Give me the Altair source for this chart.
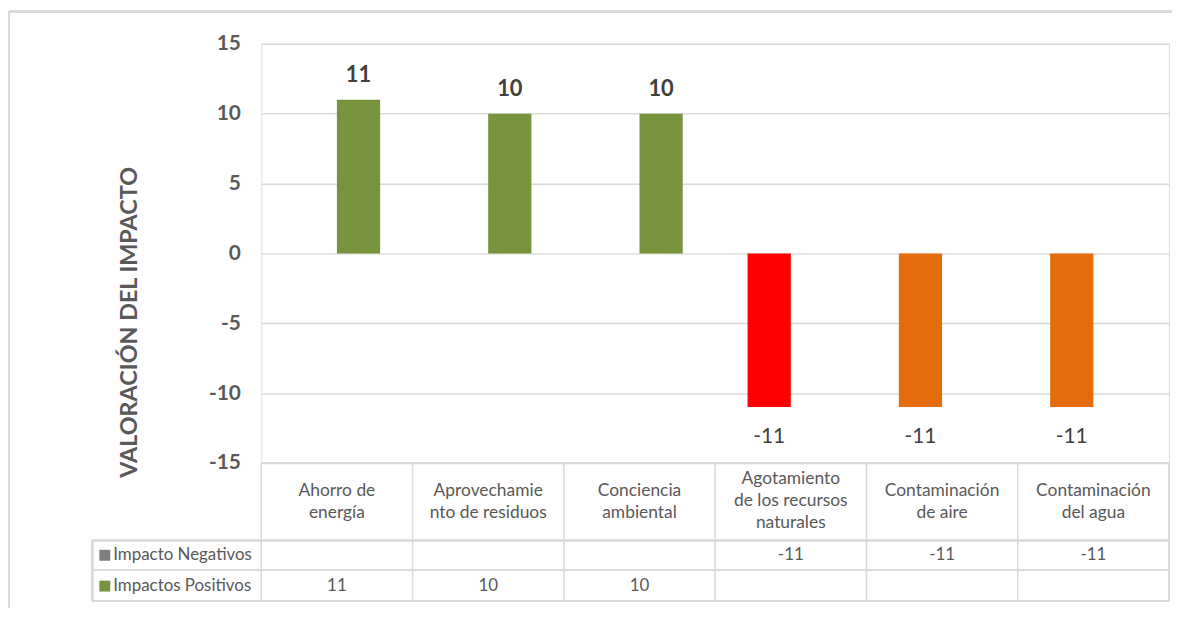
import altair as alt
import pandas as pd

categories = ["Ahorro de energía", "Aprovechamiento de residuos", "Conciencia ambiental",
              "Agotamiento de los recursos naturales", "Contaminación de aire",
              "Contaminación del agua"]
category_lines = [["Ahorro de", "energía"], ["Aprovechamie", "nto de residuos"],
                  ["Conciencia", "ambiental"], ["Agotamiento", "de los recursos", "naturales"],
                  ["Contaminación", "de aire"], ["Contaminación", "del agua"]]
series = ["Impacto Negativos", "Impactos Positivos"]
negativos = [None, None, None, -11, -11, -11]
positivos = [11, 10, 10, None, None, None]
y_ticks = [-15, -10, -5, 0, 5, 10, 15]

bar_colors = ["#77933C", "#77933C", "#77933C", "#FF0000", "#E46C0A", "#E46C0A"]
legend_colors = ["#7F7F7F", "#77933C"]
GRID = "#D9D9D9"
TXT = "#595959"
FONT = "Lato"

rows = []
for i, c in enumerate(categories):
    for s, vals in zip(series, [negativos, positivos]):
        if vals[i] is not None:
            rows.append({"cat": c, "serie": s, "valor": vals[i]})
df = pd.DataFrame(rows)
df_head = pd.DataFrame({"cat": categories,
                        "label": ["\n".join(l) for l in category_lines],
                        "n": [len(l) for l in category_lines]})
df_series = pd.DataFrame({"serie": series})

W, H = 914, 422

xcat = alt.X("cat:N", sort=categories,
             scale=alt.Scale(domain=categories, paddingInner=0, paddingOuter=0), axis=None)
xoff = alt.XOffset("serie:N", scale=alt.Scale(domain=series, paddingInner=0, paddingOuter=0.75))
yval = alt.Y("valor:Q", scale=alt.Scale(domain=[-15, 15], nice=False, zero=False),
             axis=alt.Axis(values=y_ticks, grid=True, gridColor=GRID, gridWidth=1.5,
                           domain=False, ticks=False, labelFont=FONT, labelFontSize=21,
                           labelFontWeight="bold", labelColor=TXT, labelPadding=21,
                           labelExpr="'' + datum.value",
                           title="VALORACIÓN DEL IMPACTO", titleFont=FONT, titleFontSize=23.5,
                           titleFontWeight="bold", titleColor=TXT, titleAngle=270,
                           titleAlign="center", titleBaseline="middle",
                           titleX=-133, titleY=280))

base = alt.Chart(df).transform_calculate(txt="'' + datum.valor")

bars = base.mark_bar().encode(
    x=xcat, xOffset=xoff, y=yval, y2=alt.datum(0),
    color=alt.Color("cat:N", scale=alt.Scale(domain=categories, range=bar_colors), legend=None),
)

lab_pos = base.transform_filter("datum.valor > 0").mark_text(
    dy=-25, font=FONT, fontSize=22, fontWeight="bold", color="#404040"
).encode(x=xcat, xOffset=xoff, y="valor:Q", text="txt:N")

lab_neg = base.transform_filter("datum.valor < 0").mark_text(
    dy=30, font=FONT, fontSize=21, color="#404040"
).encode(x=xcat, xOffset=xoff, y="valor:Q", text="txt:N")

# data table below the plot
head2 = alt.Chart(df_head).transform_filter("datum.n == 2").mark_text(
    font=FONT, fontSize=17.5, color=TXT, lineBreak="\n", lineHeight=22.5, baseline="middle"
).encode(x=xcat, y=alt.value(450), text="label:N")
head3 = alt.Chart(df_head).transform_filter("datum.n == 3").mark_text(
    font=FONT, fontSize=17.5, color=TXT, lineBreak="\n", lineHeight=22, baseline="middle"
).encode(x=xcat, y=alt.value(438.5), text="label:N")

row_neg = base.transform_filter(alt.datum.serie == series[0]).mark_text(
    font=FONT, fontSize=17, color=TXT
).encode(x=xcat, y=alt.value(515), text="txt:N")
row_pos = base.transform_filter(alt.datum.serie == series[1]).mark_text(
    font=FONT, fontSize=17, color=TXT
).encode(x=xcat, y=alt.value(546), text="txt:N")

sq_neg = alt.Chart(df_series).transform_filter(alt.datum.serie == series[0]).mark_square(
    size=121, opacity=1, color=legend_colors[0]).encode(
    x=alt.value(-157.5), y=alt.value(515))
sq_pos = alt.Chart(df_series).transform_filter(alt.datum.serie == series[1]).mark_square(
    size=121, opacity=1, color=legend_colors[1]).encode(
    x=alt.value(-157.5), y=alt.value(546))
name_neg = alt.Chart(df_series).transform_filter(alt.datum.serie == series[0]).mark_text(
    align="left", font=FONT, fontSize=17, color=TXT).encode(
    x=alt.value(-149), y=alt.value(515), text="serie:N")
name_pos = alt.Chart(df_series).transform_filter(alt.datum.serie == series[1]).mark_text(
    align="left", font=FONT, fontSize=17, color=TXT).encode(
    x=alt.value(-149), y=alt.value(546), text="serie:N")

line_style = dict(color=GRID, strokeWidth=1.5)
hl = []
hl.append(alt.Chart(df_head).mark_rule(**line_style).encode(
    x=alt.value(0), x2=alt.value(W), y=alt.value(H)))
for yy in [500, 530, 561]:
    hl.append(alt.Chart(df_head).mark_rule(**line_style).encode(
        x=alt.value(-170), x2=alt.value(W), y=alt.value(yy)))
vl = alt.Chart(df_head).mark_rule(**line_style).encode(
    x=alt.X("cat:N", sort=categories, bandPosition=0,
            scale=alt.Scale(domain=categories, paddingInner=0, paddingOuter=0), axis=None),
    y=alt.value(H), y2=alt.value(561))
vr = alt.Chart(df_head).mark_rule(**line_style).encode(
    x=alt.value(W), y=alt.value(H), y2=alt.value(561))
vleft = alt.Chart(df_head).mark_rule(**line_style).encode(
    x=alt.value(-170), y=alt.value(500), y2=alt.value(561))

# outer chart-area border (Excel style)
btop = alt.Chart(df_head).mark_rule(color=GRID, strokeWidth=2).encode(
    x=alt.value(-254), x2=alt.value(W + 3), y=alt.value(-32.5))
bleft = alt.Chart(df_head).mark_rule(color=GRID, strokeWidth=2).encode(
    x=alt.value(-254), y=alt.value(-32.5), y2=alt.value(H + 150))

chart = alt.layer(
    btop, bleft, *hl, vl, vr, vleft,
    bars, lab_pos, lab_neg, head2, head3, row_neg, row_pos, sq_neg, sq_pos, name_neg, name_pos
).properties(
    width=W, height=H,
    autosize=alt.AutoSizeParams(type="none"),
    padding={"left": 255, "top": 34, "right": 3, "bottom": 144},
).configure_view(stroke=None).configure(background="white")

chart.save("out.html", embed_options={"renderer": "svg", "actions": False})
